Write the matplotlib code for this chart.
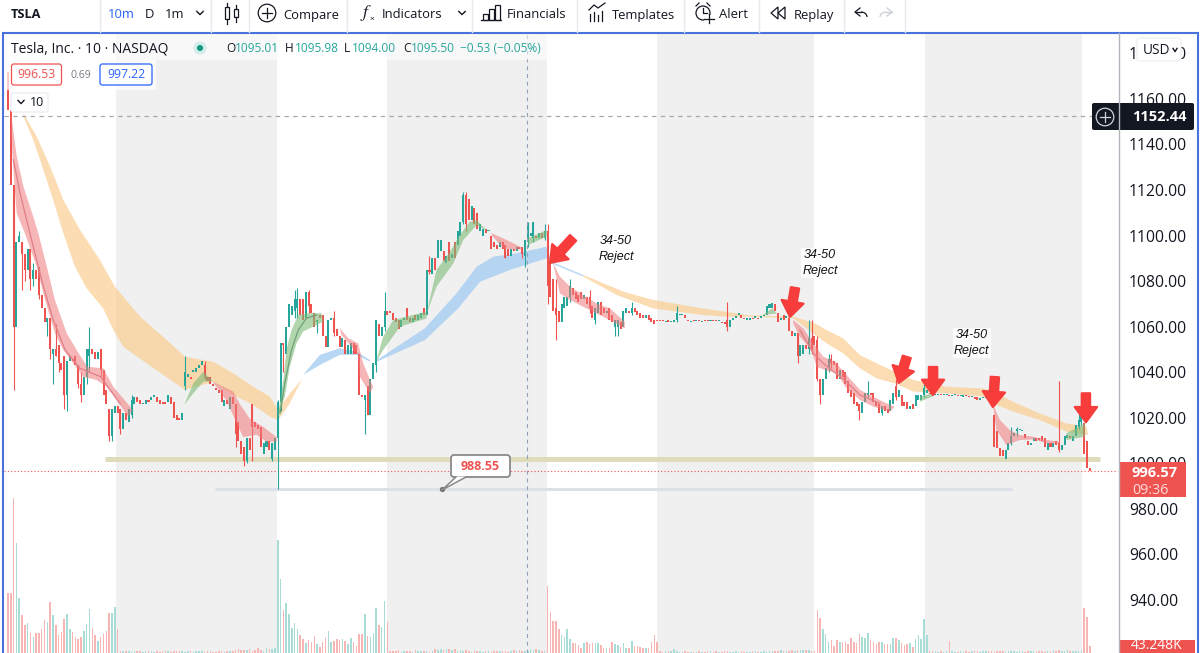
import matplotlib
matplotlib.use("Agg")
import matplotlib.pyplot as plt
from matplotlib.patches import Rectangle, FancyBboxPatch, Circle, Polygon, Arc

# ---------- candles, per session: (first bar, opens, closes) ----------
s1_start = 0
s1_open = [1172,1155,1122,1060,1097,1097,1092,1085,1094,1081,
           1085,1086,1074,1068,1062,1064,1048,1050,1052,1044,
           1047,1030,1045,1046,1047,1043,1035,1030,1038,1047,
           1050,1049,1046,1050,1041,1032,1024,1012,1022]
s1_close = [1155,1122,1060,1097,1100,1092,1085,1094,1081,1085,
            1081,1074,1068,1062,1064,1050,1050,1047,1044,1041,
            1030,1045,1047,1045,1043,1035,1030,1038,1050,1050,
            1048,1046,1049,1041,1030,1026,1012,1024,1025]
e1_start = 39
e1_open = [1025,1024,1015,1022,1018,1021,1026,1029,1028,1026,
           1026,1028,1028,1029,1029,1028,1027,1027,1027,1029,
           1027,1021,1020,1019,1034,1038,1038,1040,1040,1042,
           1043,1043,1038,1038,1035,1033,1032,1032,1025,1028,
           1024,1029,1026,1018,1010,1007,1001,1011,1026,1018,
           1017,1016,1004,1007,1010,1002,1006]
e1_close = [1022,1015,1022,1019,1024,1028,1029,1027,1026,1026.5,
            1028,1027,1029,1030,1027,1026,1026,1026,1030,1026,
            1020,1019,1019,1022,1040,1039,1037,1041,1042,1043,
            1045,1038,1036,1035,1034,1032,1031,1027,1028,1026,
            1029,1026,1013,1010,1004,1001,1011,1006,1016,1016,
            1015,1007,1009,1010,1006,1009,1011]
s2_start = 96
s2_open = [1011,1027,1053,1048,1060,1065,1067,1068,1072,1072,
           1064,1075,1070,1066,1062,1065,1065,1056,1051,1063,
           1064,1059,1056,1051,1054,1048,1048,1053,1052,1048,
           1030,1028,1034,1021,1037,1043,1061,1056,1060]
s2_close = [1027,1053,1052,1060,1070,1069,1072,1072,1065,1063,
            1075,1069,1066,1060,1063,1064,1056,1051,1063,1064,
            1057,1056,1051,1055,1048,1052,1053,1048,1048,1030,
            1029,1030,1021,1037,1044,1063,1056,1060,1067]
e2_start = 135
e2_open = [1067,1067,1066,1064,1063,1060,1063,1068,1064,1062,
           1065,1063,1064,1068,1065,1085,1083,1090,1090,1093,
           1093,1088,1097,1090,1097,1096,1100,1106,1118,1116,
           1107,1112,1110,1102,1100,1103,1102,1100,1097,1096,
           1095,1097,1096,1094,1091,1094,1093,1095,1095,1091,
           1097,1100,1099,1100,1099,1101,1099]
e2_close = [1065,1066,1063,1062,1059,1063,1064,1063,1062,1064,
            1063,1065,1066,1065,1085,1084,1090,1085,1098,1098,
            1089,1091,1089,1092,1090,1102,1106,1118,1105,1107,
            1113,1105,1103,1105,1103,1101,1102.5,1094,1095,1094,
            1097,1094,1090,1091,1094,1093,1095,1094,1092,1098,
            1105,1101,1106,1099,1101,1099,1102]
s3_start = 192
s3_open = [1102,1089,1081,1068,1067,1062,1068,1069,1073,1077,
           1075,1074,1075,1072,1073,1073,1069,1063,1066,1071,
           1068,1066,1068,1065,1060,1060,1062,1060,1066,1067,
           1066,1068,1067,1066,1065,1064,1065,1064,1063]
s3_close = [1078,1073,1067,1065,1062,1070,1073,1073,1078,1074,
            1072,1071,1072,1074,1070,1068,1064,1068,1071,1065,
            1066,1067,1063,1062,1063,1063,1059,1067,1068,1066,
            1068,1066.5,1065,1064,1064,1065,1063,1062,1061]
e3_start = 231
e3_open = [1063,1063,1063,1062,1063,1062,1062,1063,1065,1065,
           1065,1063,1062,1063,1062.5,1063,1062,1063,1063,1062.5,
           1063,1063,1062.5,1062,1062,1063,1060,1063,1064,1065,
           1065,1064,1063,1063,1064,1064,1064,1064,1064.5,1065,
           1068,1068,1070,1066,1063,1065,1064,1064,1058,1056,
           1057,1047,1048,1052,1050,1055,1056]
e3_close = [1062.5,1062.5,1062.5,1062.5,1062,1062.5,1063,1066,1065.5,1065.5,
            1064,1062.5,1062.5,1062.5,1063,1062.5,1062.5,1062.5,1062.5,1063,
            1062.5,1062.5,1063,1061.5,1061,1060,1063,1064,1064.5,1066,
            1064,1063.5,1063.5,1064,1063.5,1064.5,1063.5,1064.5,1065,1069,
            1070,1070.5,1067,1062,1064,1063,1064.5,1058,1056,1057,
            1047,1052,1052,1050,1055,1050,1052]
s4_start = 288
s4_open = [1054,1037,1030,1037,1042,1046,1045,1044,1037,1041,
           1040,1036,1032,1031,1027,1026,1022,1027,1030,1031,
           1031,1027,1026,1022,1025,1024,1023,1026,1034,1029,
           1030,1027,1027,1024,1026,1025,1028,1028,1030]
s4_close = [1037,1030,1037,1042,1046,1044,1043,1037,1041,1038,
            1035,1031,1029,1026,1025,1023,1027,1031,1031,1030,
            1027,1025,1022,1025,1023,1022,1028,1031,1029,1032,
            1025,1025,1024,1025,1024,1030,1030,1030,1033]
e4_start = 327
e4_open = [1031,1031,1030.5,1030,1030,1030.5,1030,1030,1030,1029.5,
           1030,1030,1029.5,1029,1030,1029.5,1029,1029,1029,1028,
           1028.5,1028.5,1028.5,1028,1021,1014,1006.5,1006,1002,1006,
           1009,1012,1014,1014.5,1014,1013,1010,1008,1010,1011,
           1011,1012,1011,1006,1009,1007,1010,1009,1006,1008,
           1011,1012,1010,1012,1016,1018,1017.5,1010,998]
e4_close = [1032,1030.5,1030,1030.5,1030.5,1030,1030.5,1030.5,1029.5,1030,
            1030.5,1029.5,1029.5,1030,1029.5,1029,1029.5,1028.5,1028,1028.5,
            1029,1029,1028,1027,1007,1006.5,1003,1003,1006,1009,
            1012,1013.5,1015,1015,1014.5,1011,1008,1009,1011,1010,
            1010.5,1010,1007,1009,1007,1009,1008,1006,1008,1012,
            1012.5,1011,1012,1017,1019,1021,1004,998,996.5]
candle_sessions = [(s1_start,s1_open,s1_close),(e1_start,e1_open,e1_close),
                   (s2_start,s2_open,s2_close),(e2_start,e2_open,e2_close),
                   (s3_start,s3_open,s3_close),(e3_start,e3_open,e3_close),
                   (s4_start,s4_open,s4_close),(e4_start,e4_open,e4_close)]

# notable wicks (bar, high, low)
wick_bars = [2,4,5,6,8,9,11,14,15,16,17,18,20,21,25,26,28,29,33,36,37,40,44,
             63,70,81,84,85,87,94,96,97,98,102,103,107,110,116,127,131,134,
             150,162,163,177,183,184,185,187,191,192,195,200,207,209,216,217,222,
             238,256,281,285,286,288,289,292,293,303,306,311,316,326,357,359,374,381,382]
wick_highs = [1122,1102,1097,1092,1094,1088,1086,1064,1064,1050,1061,1052,1047,1045,1043,1040,1050,1060,1050,1024,1024,1024,1030,
              1047,1045,1026,1007,1011,1026,1009,1028,1053,1053,1076,1077,1076,1063,1067,1030,1063,1075,
              1091,1119,1119,1096,1095,1098,1106,1106,1105,1105,1081,1081,1076,1068,1063,1063,1071,
              1069,1071,1057,1063,1063,1056,1037,1048,1048,1026,1036,1025,1037,1036,1016,1016,1036,1022,1023]
wick_lows = [1032,1098,1076,1080,1076,1078,1072,1056,1046,1035,1047,1040,1024,1023,1033,1027,1035,1040,1038,1010,1010,1013,1020,
             1032,1037,1007,999,1000,1001,1001,988.55,1023,1040,1064,1064,1066,1057,1056,1013,1040,1058,
             1083,1105,1102,1090,1090,1086,1095,1097,1098,1070,1054,1071,1066,1061,1056,1056,1065,
             1062,1058,1044,1048,1048,1036,1026,1040,1042,1019,1029,1021,1028,1029,1008,1012,1005,1015,1017]

# ---------- volume in thousands, per segment (first bar, values) ----------
vs1_start = 0
vs1 = [370,370,959,684,339,235,173,189,122,102,124,122,149,205,194,319,238,173,113,130,
       209,242,151,130,102,85,102,135,178,270,157,113,76,102,119,138,248,246,283,146]
ve1_start = 40
ve1 = [12,10,12,11,9,12,10,11,9,10,12,11,9,10,9,12,11,10,9,10,
       12,10,11,9,11,10,9,11,12,10,9,11,10,9,8,11,10,9,12,13,
       15,18,23,20,21,17,22,14,18,30,21,14,28,25,27,32]
vs2_start = 96
vs2 = [700,457,266,308,242,157,184,147,110,87,60,78,66,105,56,35,70,91,138,70,
       76,87,83,87,74,54,91,66,43,118,118,240,105,97,122,277,174,159,324,190]
ve2_start = 136
ve2 = [14,11,12,16,9,10,11,12,9,18,10,11,13,10,9,14,22,20,25,21,
       22,24,17,23,12,19,14,20,11,9,12,10,10,8,12,14,9,10,12,15,
       11,10,9,14,16,12,18,15,11,10,25,17,24,19,14,13]
vs3_start = 192
vs3 = [415,252,200,200,147,112,101,147,87,64,64,50,29,60,66,54,60,60,60,50,
       33,29,33,66,54,50,35,64,33,29,74,43,43,35,33,29,29,66,112,70]
ve3_start = 232
ve3 = [10,9,11,12,10,27,13,8,7,10,9,8,7,9,10,8,9,10,11,9,
       10,8,9,12,11,9,8,10,9,11,9,8,9,10,12,9,8,10,9,11,
       12,14,11,16,10,13,15,18,14,17,19,16,17,19,14,13]
vs4_start = 288
vs4 = [266,215,149,116,70,81,43,81,70,66,70,56,91,70,64,118,97,91,126,81,
       66,56,68,66,56,56,54,91,91,81,64,50,54,64,39,87,112,87,209,114]
ve4_start = 328
ve4 = [12,10,11,9,10,8,13,74,14,9,8,10,9,11,9,10,11,12,9,10,
       12,11,10,9,10,12,11,9,10,11,10,9,12,10,9,11,10,12,9,10,
       11,9,10,12,16,14,17,15,12,16,14,13,15,14,17,277,223,43]
volume_segments = [(vs1_start,vs1),(ve1_start,ve1),(vs2_start,vs2),(ve2_start,ve2),
                   (vs3_start,vs3),(ve3_start,ve3),(vs4_start,vs4),(ve4_start,ve4)]

# ---------- moving-average ribbons (bar, price) for upper and lower edges ----------
orange1_xu = [5.5,10.2,15,19.7,25.6,32.7,38,47,56.5,63,73,80.2,87.3,93.2,96.2,100.3,104.5]
orange1_u = [1153.7,1143.5,1130.3,1115.6,1102.5,1089.3,1077.6,1064.4,1054.1,1046.8,1044.6,1039.5,1033.6,1029.3,1023.4,1030.7,1036.6]
orange1_xl = [5.5,9,12.6,16.1,19.7,23.8,28,33.9,37.5,41,49.3,63,73,80.2,87.3,93.2,96.2,100.3,104.5]
orange1_l = [1152.2,1142,1128.8,1115.6,1101,1086.4,1076.8,1068,1058.5,1051.2,1043.9,1032.2,1035.8,1030,1025.6,1020.5,1019,1026.3,1036.6]
blue1_xu = [105,111,118.1,124,128.8]
blue1_u = [1038.8,1047.6,1050.5,1049,1045.4]
blue1_xl = [105,111,118.1,124,128.8]
blue1_l = [1038.8,1043.2,1047.6,1047.6,1044.6]
blue2_xu = [131.2,148.4,159.6,166.8,172.7,181,191.7,193.4,204.7]
blue2_u = [1045.3,1059.3,1074.6,1086.3,1090.7,1092.2,1095.1,1088.5,1082.7]
blue2_xl = [131.2,148.4,160.2,168,178.6,191.7,193.4,204.7]
blue2_l = [1044.6,1054.1,1068,1079.7,1084.9,1090,1087.8,1082]
orange2_xu = [204.7,219,229.6,247.4,255.1,262.8,279.5,287.2,291.3,297.2,303.2,309.1,315.6,322.1,334,347,350.6,357.7,367.2,376.7,383.8]
orange2_u = [1082.7,1075.4,1071.7,1068,1066.6,1065.1,1064.4,1061.4,1058.5,1054.9,1047.5,1043.9,1040.2,1036.6,1033.6,1032.9,1031.5,1027,1021.9,1017.5,1016.1]
orange2_xl = [204.7,216.6,229.6,247.4,255.1,262.8,279.5,287.2,291.3,297.2,303.2,309.1,315.6,322.1,334,347,351.8,357.7,367.2,376.7,384.4]
orange2_l = [1082,1073.9,1068,1065.1,1064.4,1064.4,1063.7,1056.3,1052.7,1048.3,1041.7,1037.3,1035.1,1031.5,1030.7,1029.3,1025.6,1022.7,1019,1013.9,1012.4]

red1_xu = [1.1,3.1,5.5,9,10.8,13.8,16.7,20.9,24.4,28.2,33.9,37.5,44]
red1_u = [1153.7,1134.7,1121.5,1108.3,1101,1086.4,1071.7,1057.1,1049.8,1042.4,1041.7,1033.6,1024.1]
red1_xl = [1.1,2.1,3.1,6,10.2,13.2,16.7,19.7,23.2,26.8,31.5,35.1,38.7,42.8,44]
red1_l = [1144.9,1125.9,1109.8,1101,1086.4,1071.7,1057.1,1049.8,1043.9,1038,1036.6,1033.6,1027.8,1020.5,1022.7]
red1_cx = [1.9,4.3,7.8,12.6,16.1,20.3,25.6,33,40]
red1_c = [1133.2,1118.6,1101,1077.6,1063,1049.8,1041.7,1038,1026]
green2_xu = [62.7,65.9,69.5,72.5]
green2_u = [1025.6,1035,1040.2,1036.6]
green2_xl = [62.7,65.9,69.5,72.5]
green2_l = [1025.6,1030.7,1035.8,1036]
red2_xu = [73,80.2,82.5,86.1,90.8,95.6]
red2_u = [1035.8,1031.5,1026,1019.5,1016,1011.5]
red2_xl = [73,77.8,81.4,83.7,88.5,92,95.6]
red2_l = [1035.5,1027.5,1017.5,1011.5,1012.5,1009.5,1009.5]
green3_xu = [96.2,98,99.1,100.9,103.3,106.8,111.6]
green3_u = [1021.9,1036.6,1049.8,1058.5,1065.1,1065.9,1065.9]
green3_xl = [96.2,98.5,100.3,102.7,105,108.6,112.2]
green3_l = [1020.5,1029.3,1042.4,1052.7,1057.8,1060,1062.2]
green3_cx = [96.8,98.5,100.9,103.3,106.2,109.8]
green3_c = [1021.9,1035.1,1049.8,1058.5,1063.7,1065.1]
red3_xu = [118.1,121.1,124.6,126.4,129.4]
red3_u = [1059.3,1054.9,1052.7,1043.9,1035.1]
red3_xl = [118.7,124.6,125.2,128.8,130]
red3_l = [1056.3,1047.6,1038,1030.7,1033.6]
green4_xu = [131,133.5,137.1,141.8,149]
green4_u = [1044.6,1055.6,1062.9,1064.4,1066.6]
green4_xl = [131,133.5,139.5,149]
green4_l = [1044.6,1049.7,1060,1063.6]
green5_xu = [149,152.5,157.3,160.8,164.4,166.8,170.3]
green5_u = [1065.8,1084.9,1092.9,1100.2,1106.1,1106.8,1102.4]
green5_xl = [149,152.5,158.5,162,166.8,170.3]
green5_l = [1065.8,1077.6,1087.8,1098,1104.6,1102.2]
red4_xu = [172.1,176.2,181,183.4]
red4_u = [1101,1098.8,1095.9,1094.4]
red4_xl = [172.1,176.2,181,183.4]
red4_l = [1100.2,1094.4,1093.7,1094.4]
green6_xu = [185.1,191.7]
green6_u = [1098.8,1102.4]
green6_xl = [185.1,191.7]
green6_l = [1095.9,1099.5]
red5_xu = [193.4,196.4,200,209.4,214.2,219.5]
red5_u = [1089.3,1082,1077.6,1070.2,1068,1062.2]
red5_xl = [193.4,194,196.4,200,209.4,214.2,219.5]
red5_l = [1089.3,1087.8,1074.6,1071.7,1065.8,1062.9,1059.2]
green7_xu = [268.5,272,273.5]
green7_u = [1065.1,1068,1065.8]
green7_xl = [268.5,273.5]
green7_l = [1065.1,1065.8]
red6_xu = [279.4,283,286.6,290.1,294.3,298.4,303.2,307.9,312.7,315.6]
red6_u = [1062.9,1059.3,1052.7,1046.8,1044.6,1038.8,1032.2,1029.2,1026.3,1024.8]
red6_xl = [279.4,281.8,286,287.7,290.7,294.9,298.4,303.2,307.9,313.8]
red6_l = [1061.5,1055.6,1049.7,1042.4,1041,1039.5,1032.9,1027.8,1024.9,1022.7]
red6_cx = [281.8,286.6,290.1,298.4,303.2,310.3]
red6_c = [1058.5,1048.3,1043.9,1035.8,1030,1026.3]
green8_xu = [324.5,329.3]
green8_u = [1029.3,1030.7]
green8_xl = [324.5,329.3]
green8_l = [1027,1029.5]
red7_xu = [350.6,353,356.5,360.1,364.8,369.6,374.3]
red7_u = [1025.6,1019,1014.6,1012.4,1011.7,1010.2,1009.5]
red7_xl = [350.6,351.8,355.3,360.1,364.8,369.6,374.3]
red7_l = [1024.9,1014.6,1008,1010.2,1010.5,1008.8,1008.5]
green9_xu = [376.7,383.2]
green9_u = [1013.2,1017.5]
green9_xl = [376.7,383.2]
green9_l = [1010.2,1011.7]

# ---------- levels, sessions, notes ----------
grey_from = [38.4,134.9,231,326.3]
grey_to = [95.7,191.8,286.8,382.2]
crosshair_price = 1152.44
crosshair_bar = 184.7
last_price = 996.57
support_price = 1001.9
support_from, support_to = 34.5, 388.5
low_price = 988.55
low_from, low_to = 73.7, 357.3
low_label_bar = 154.4
price_ticks = [940,960,980,1000,1020,1040,1060,1080,1100,1120,1140,1160,1180]
arrow_bars = [192.9,278.3,317,329.2,350.5,383.6]
arrow_prices = [1088,1064.3,1035.3,1030,1024.7,1018]
arrow_dx = [23,5,8,0,2,0]
arrow_dy = [25,29,26,28,30,29]
note_bars = [216.4,289,343]
note_prices = [1094.1,1088,1052.8]
note_text = "34-50\nReject"

UP, DOWN = "#26a69a", "#ef5350"
W, H = 1200, 653
FONT = "Open Sans"
plt.rcParams["font.family"] = [FONT, "DejaVu Sans"]

fig = plt.figure(figsize=(12, 6.53), dpi=100, facecolor="white")
ax = fig.add_axes([4/W, 0, 1114/W, (H-34)/H])
ax.set_xlim(-1.42, 395.02)
ax.set_ylim(916.7, 1188.5)
vol = ax.twinx()
vol.set_ylim(0, 3838)
vol.axis("off")
ax.set_zorder(2); vol.set_zorder(1)
ax.patch.set_alpha(0)
vol.patch.set_alpha(0)

for a, b in zip(grey_from, grey_to):
    vol.axvspan(a, b, color="#f0f0f0", lw=0, zorder=0)

direction = {}
for start, opens, closes in candle_sessions:
    for k, (o, c) in enumerate(zip(opens, closes)):
        direction[start+k] = c >= o
        col = UP if c >= o else DOWN
        h = c - o if abs(c - o) >= 0.6 else (0.6 if c >= o else -0.6)
        ax.bar(start+k, h, bottom=o, width=0.72, color=col, lw=0, zorder=4)
for b, hi, lo in zip(wick_bars, wick_highs, wick_lows):
    ax.vlines(b, lo, hi, color=UP if direction.get(b, True) else DOWN, lw=0.8, zorder=3.9)

for start, vals in volume_segments:
    for k, v in enumerate(vals):
        up = direction.get(start+k, True)
        vol.bar(start+k, v, width=0.55, color="#a8dcd7" if up else "#f7b6b4", lw=0, zorder=2)

def ribbon(xu, yu, xl, yl, color, alpha, z):
    ax.fill(list(xu)+list(xl)[::-1], list(yu)+list(yl)[::-1], color=color, alpha=alpha, lw=0, zorder=z)

for xu, yu, xl, yl in [(orange1_xu,orange1_u,orange1_xl,orange1_l),(orange2_xu,orange2_u,orange2_xl,orange2_l)]:
    ribbon(xu, yu, xl, yl, "#fbcf94", 0.72, 2)
for xu, yu, xl, yl in [(blue1_xu,blue1_u,blue1_xl,blue1_l),(blue2_xu,blue2_u,blue2_xl,blue2_l)]:
    ribbon(xu, yu, xl, yl, "#a5cef2", 0.8, 2)
for xu, yu, xl, yl in [(red1_xu,red1_u,red1_xl,red1_l),(red2_xu,red2_u,red2_xl,red2_l),(red3_xu,red3_u,red3_xl,red3_l),
                       (red4_xu,red4_u,red4_xl,red4_l),(red5_xu,red5_u,red5_xl,red5_l),(red6_xu,red6_u,red6_xl,red6_l),
                       (red7_xu,red7_u,red7_xl,red7_l)]:
    ribbon(xu, yu, xl, yl, "#f0797a", 0.55, 5)
for xu, yu, xl, yl in [(green2_xu,green2_u,green2_xl,green2_l),(green3_xu,green3_u,green3_xl,green3_l),(green4_xu,green4_u,green4_xl,green4_l),
                       (green5_xu,green5_u,green5_xl,green5_l),(green6_xu,green6_u,green6_xl,green6_l),(green7_xu,green7_u,green7_xl,green7_l),
                       (green8_xu,green8_u,green8_xl,green8_l),(green9_xu,green9_u,green9_xl,green9_l)]:
    ribbon(xu, yu, xl, yl, "#7dbb78", 0.6, 5)
ax.plot(red1_cx, red1_c, color="#e07f86", lw=0.9, zorder=5.2)
ax.plot(red6_cx, red6_c, color="#e07f86", lw=0.9, zorder=5.2)
ax.plot(green3_cx, green3_c, color="#6f9f78", lw=0.9, zorder=5.2)

ax.hlines(support_price, support_from, support_to, color="#dfdcbb", lw=3.6, zorder=3)
ax.hlines(low_price, low_from, low_to, color="#dde0e9", lw=2.2, zorder=3)
ax.axhline(last_price, color=DOWN, lw=0.8, ls=(0, (1, 2)), zorder=3)
ax.hlines(crosshair_price, -1.42, 388, color="#a4a9b0", lw=0.9, ls=(0, (3.5, 3.5)), zorder=6)
ax.axvline(crosshair_bar, color="#8fa0b5", lw=0.8, ls=(0, (3.5, 3.5)), zorder=6)

for b, p, dx, dy in zip(arrow_bars, arrow_prices, arrow_dx, arrow_dy):
    ax.annotate("", xy=(b, p), xytext=(dx*0.72, dy*0.72), textcoords=("offset points"), annotation_clip=False,
                arrowprops=dict(arrowstyle="simple,head_length=11,head_width=16,tail_width=6", mutation_scale=1,
                                color="#f73c3c", lw=1.6, shrinkA=0, shrinkB=0), zorder=8)
for b, p in zip(note_bars, note_prices):
    ax.text(b, p, note_text, ha="center", va="center", fontsize=9, style="italic", family="Liberation Sans",
            color="#111111", linespacing=1.4, zorder=8,
            bbox=dict(fc="white", ec="none", pad=0.8, alpha=0.85))

ax.scatter([low_label_bar], [low_price], s=8, color="#777777", zorder=9)

ax.yaxis.tick_right()
ax.set_yticks(price_ticks)
ax.set_yticklabels([f"{t:.2f}" for t in price_ticks], fontsize=11.3, color="#131722")
ax.tick_params(axis="y", length=0, pad=8)
ax.set_xticks([])
for side, sp in ax.spines.items():
    sp.set_visible(False)

# ---------- user-interface layer, in pixels ----------
ui = fig.add_axes([0, 0, 1, 1], zorder=10)
ui.set_xlim(0, W); ui.set_ylim(H, 0); ui.axis("off"); ui.patch.set_alpha(0)

ui.plot([2.5, 2.5, 1197.5, 1197.5], [H, 32.5, 32.5, H], color="#4a72dc", lw=1.5, solid_joinstyle="miter")
ui.plot([1119, 1119], [33, H], color="#b2b5be", lw=1)
ui.add_patch(Rectangle((4, 34), 550, 26, fc="white", alpha=0.55, lw=0))
ui.add_patch(Rectangle((4, 60), 152, 30, fc="white", alpha=0.7, lw=0))

for x in [100, 211, 249, 347, 472, 577, 684, 759, 844, 905]:
    ui.plot([x, x], [0, 32], color="#e6e8ee", lw=1)

def t(x, y, s, size=9.4, color="#131722", ha="left", **kw):
    ui.text(x, y + 1, s, fontsize=size, color=color, ha=ha, va="center", **kw)

def chev(x, y, w=3.2, color="#131722", lw=1):
    ui.plot([x-w, x, x+w], [y-1.6, y+1.6, y-1.6], color=color, lw=lw)

# callout for the marked low
ui.add_patch(FancyBboxPatch((451, 455), 59, 22, boxstyle="round,pad=0,rounding_size=3", fc="white", ec="#8a8a8a", lw=1.3))
ui.add_patch(Polygon([[442, 490], [456, 476.5], [466, 476.5]], closed=True, fc="white", ec="none"))
ui.plot([456, 442, 466], [477, 490, 477], color="#8a8a8a", lw=1.1)
t(480.5, 465, "988.55", size=9, color="#ef5350", ha="center", fontweight="bold")

t(11, 14, "TSLA", fontweight="bold", size=9.2)
t(108, 14, "10m", color="#2962ff")
t(145, 14, "D")
t(165, 14, "1m")
chev(200, 13)
for cx, top, bot, a, b in [(227, 3, 24, 7, 19), (236, 5, 22, 9, 17)]:
    ui.plot([cx, cx], [top, a], color="#131722", lw=0.9)
    ui.plot([cx, cx], [b, bot], color="#131722", lw=0.9)
    ui.add_patch(Rectangle((cx-2.2, a), 4.4, b-a, fc="none", ec="#131722", lw=0.9))
ui.add_patch(Circle((267, 13), 8.8, fc="none", ec="#131722", lw=0.9))
ui.plot([262, 272], [13, 13], color="#131722", lw=0.9); ui.plot([267, 267], [8, 18], color="#131722", lw=0.9)
t(283, 14, "Compare")
t(360, 12, "$f$", size=13, math_fontfamily="stix")
t(369, 18, "×", size=6)
t(382, 14, "Indicators")
chev(462, 13)
for bx, bt in [(483, 14), (489, 9), (495, 5)]:
    ui.add_patch(Rectangle((bx, bt), 5, 20-bt, fc="none", ec="#131722", lw=0.9))
ui.plot([481, 501], [20, 20], color="#131722", lw=0.9)
t(507, 14, "Financials")
ui.plot([589, 594, 598, 605], [10, 5, 8, 3], color="#131722", lw=0.9)
for bx, bt in [(590, 14), (594, 12), (598, 15), (602, 11)]:
    ui.plot([bx, bx], [bt, 21], color="#131722", lw=0.9)
t(612, 14, "Templates")
ui.add_patch(Circle((703, 13), 7, fc="none", ec="#131722", lw=0.9))
ui.plot([703, 703, 707], [8, 13, 13], color="#131722", lw=0.9)
ui.plot([696, 699], [6, 3], color="#131722", lw=0.9); ui.plot([707, 710], [3, 6], color="#131722", lw=0.9)
ui.add_patch(Rectangle((704, 15), 9, 8, fc="white", ec="none"))
ui.plot([704, 714], [18.5, 18.5], color="#131722", lw=0.9); ui.plot([709, 709], [14, 23], color="#131722", lw=0.9)
t(719, 14, "Alert")
ui.add_patch(Polygon([[778, 7], [771, 13], [778, 19]], fc="none", ec="#131722", lw=0.9))
ui.add_patch(Polygon([[785, 7], [778, 13], [785, 19]], fc="none", ec="#131722", lw=0.9))
t(794, 14, "Replay")
ui.plot([860, 855, 860], [8, 12, 16], color="#131722", lw=0.9)
ui.add_patch(Arc((861, 17), 12, 10, theta1=270, theta2=360, ec="#131722", lw=0.9))
ui.plot([855, 861], [12, 12], color="#131722", lw=0.9)
ui.plot([887, 892, 887], [8, 12, 16], color="#c8ccd4", lw=0.9)
ui.plot([892, 886], [12, 12], color="#c8ccd4", lw=0.9)
ui.add_patch(Arc((886, 17), 12, 10, theta1=180, theta2=270, ec="#c8ccd4", lw=0.9))

TEAL = "#26a69a"
t(11, 48, "Tesla, Inc. · 10 · NASDAQ", size=10)
ui.add_patch(Circle((200, 48), 6.5, fc="#d3ece9", lw=0))
ui.add_patch(Circle((200, 48), 3, fc="#089981", lw=0))
for x, s, vx, v in [(226, "O", 235, "1095.01"), (285, "H", 295, "1095.98"), (344, "L", 352, "1094.00"), (403, "C", 411, "1095.50")]:
    t(x, 48, s, size=8.6)
    t(vx, 48, v, size=8.6, color=TEAL)
t(460, 48, "−0.53 (−0.05%)", size=8.6, color=TEAL)
ui.add_patch(FancyBboxPatch((11.5, 64), 50, 21, boxstyle="round,pad=0,rounding_size=2.5", fc="white", ec="#ef5350", lw=0.9))
t(36.5, 74, "996.53", size=8.8, color="#ef5350", ha="center")
t(81, 74, "0.69", size=7.6, color="#787b86", ha="center")
ui.add_patch(FancyBboxPatch((100, 64), 52, 21, boxstyle="round,pad=0,rounding_size=2.5", fc="white", ec="#2962ff", lw=0.9))
t(126, 74, "997.22", size=8.8, color="#2962ff", ha="center")
ui.add_patch(FancyBboxPatch((11, 93), 37, 19, boxstyle="round,pad=0,rounding_size=2", fc="white", ec="#e6e8ee", lw=0.8))
chev(21, 102, w=3)
t(30, 101, "10", size=9)

ui.add_patch(FancyBboxPatch((1137, 38), 44, 23, boxstyle="round,pad=0,rounding_size=3", fc="white", ec="#eceef2", lw=0.8))
t(1143, 49, "USD", size=9.8)
chev(1175, 50, w=2, lw=1)
ui.add_patch(FancyBboxPatch((1092, 103), 102, 27, boxstyle="round,pad=0,rounding_size=2", fc="#131722", ec="none"))
ui.add_patch(Circle((1105, 117), 8.8, fc="none", ec="#d1d4dc", lw=0.9))
ui.plot([1100, 1110], [117, 117], color="#d1d4dc", lw=0.9); ui.plot([1105, 1105], [112, 122], color="#d1d4dc", lw=0.9)
t(1187, 116, "1152.44", size=10.5, color="white", ha="right", fontweight="bold")
ui.add_patch(Rectangle((1120, 462), 66, 35, fc="#ef5350", lw=0))
t(1132, 472, "996.57", size=10.5, color="white", fontweight="bold")
t(1132, 489, "09:36", size=10.3, color="#fbdcdb")
ui.add_patch(Rectangle((1120, 640), 75, 13, fc="#ef5350", lw=0))
t(1157, 644.5, "43.248K", size=10, color="white", ha="center")

fig.savefig("out.png", dpi=100)
